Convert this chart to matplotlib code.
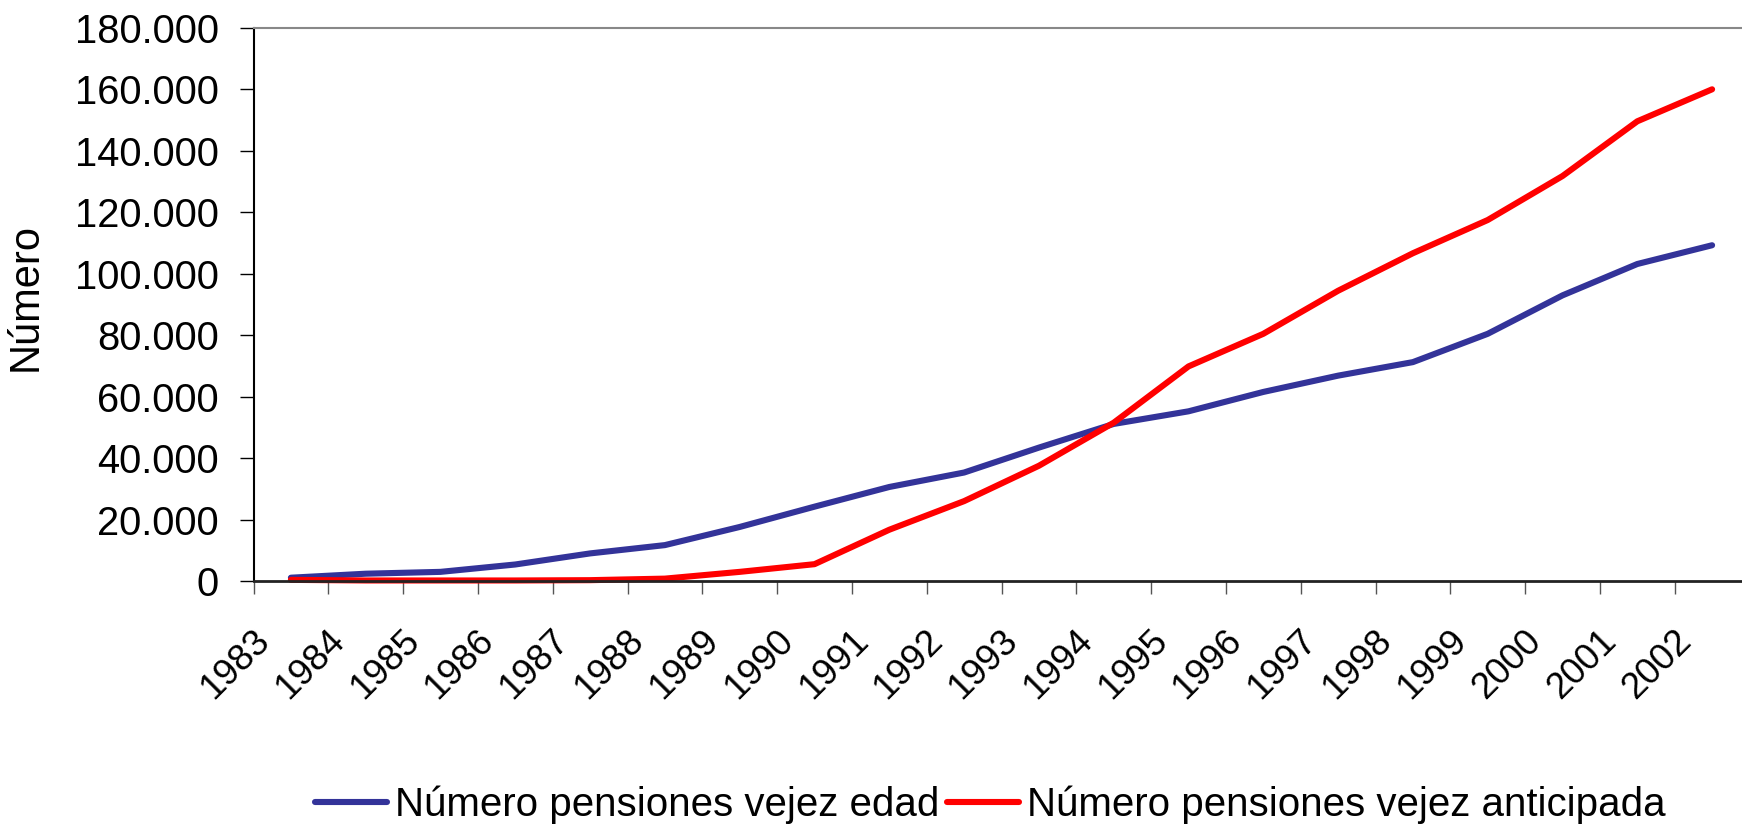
import matplotlib
matplotlib.use("Agg")
import matplotlib.pyplot as plt
from matplotlib.ticker import FixedLocator, FuncFormatter, NullFormatter
from matplotlib.transforms import ScaledTranslation

plt.rcParams['font.family'] = ['Liberation Sans', 'DejaVu Sans']

years = [str(y) for y in range(1983, 2003)]
vejez_edad = [1200, 2500, 3100, 5500, 9100, 11800, 17700, 24300, 30700, 35400,
              43500, 51200, 55300, 61600, 66900, 71300, 80500, 93000, 103200, 109300]
vejez_anticipada = [500, 300, 300, 300, 400, 900, 3100, 5600, 16800, 26100,
                    37600, 51600, 69900, 80500, 94500, 106700, 117500, 131800, 149600, 160000]
series_labels = ["Número pensiones vejez edad", "Número pensiones vejez anticipada"]
y_label = "Número"

W, H = 1742, 827
fig = plt.figure(figsize=(W / 100, H / 100), dpi=100)
left, right, top, bottom = 253.5, 1749.5, 27.8, 581.4
ax = fig.add_axes([left / W, 1 - bottom / H, (right - left) / W, (bottom - top) / H])

x = list(range(len(years)))
ax.plot(x, vejez_edad, color='#333399', lw=4.4, solid_capstyle='round',
        solid_joinstyle='round', label=series_labels[0], clip_on=False)
ax.plot(x, vejez_anticipada, color='#FF0000', lw=4.4, solid_capstyle='round',
        solid_joinstyle='round', label=series_labels[1], clip_on=False)

ax.set_xlim(-0.5, len(years) - 0.5)
ax.set_ylim(0, 180000)

# y axis
ax.yaxis.set_major_locator(FixedLocator(list(range(0, 180001, 20000))))
ax.yaxis.set_major_formatter(FuncFormatter(lambda v, p: f"{int(v):,}".replace(",", ".")))
ax.tick_params(axis='y', direction='out', length=9.8, width=1.0, color='black',
               labelsize=28.7, pad=15)

# x axis: ticks at boundaries, labels at centers
ax.xaxis.set_major_locator(FixedLocator([i - 0.5 for i in range(len(years) + 1)]))
ax.xaxis.set_major_formatter(NullFormatter())
ax.xaxis.set_minor_locator(FixedLocator(x))
ax.set_xticklabels(years, minor=True)
ax.tick_params(axis='x', which='major', direction='out', length=9.2, width=1.0, color='#555555')
ax.tick_params(axis='x', which='minor', length=0, labelsize=26.5, pad=30)
shift = ScaledTranslation(-14 / 100, 0, fig.dpi_scale_trans)
for lab in ax.get_xticklabels(minor=True):
    lab.set_rotation(45)
    lab.set_ha('right')
    lab.set_va('top')
    lab.set_transform(lab.get_transform() + shift)

ax.set_ylabel(y_label, fontsize=30)
ax.yaxis.set_label_coords((46 - left) / (right - left), 0.514)

ax.spines['left'].set_color('black')
ax.spines['left'].set_linewidth(1.5)
ax.spines['bottom'].set_color('#222222')
ax.spines['bottom'].set_linewidth(2.0)
ax.spines['top'].set_color('#888888')
ax.spines['top'].set_linewidth(1.5)
ax.spines['right'].set_color('#888888')
ax.spines['right'].set_linewidth(1.5)

fig.legend(loc='center', bbox_to_anchor=(990 / W, 1 - 804.5 / H), ncol=2, frameon=False,
           fontsize=29, handlelength=1.8, handletextpad=0.19, columnspacing=0.19,
           borderpad=0, borderaxespad=0)

fig.savefig("out.png", dpi=100)
